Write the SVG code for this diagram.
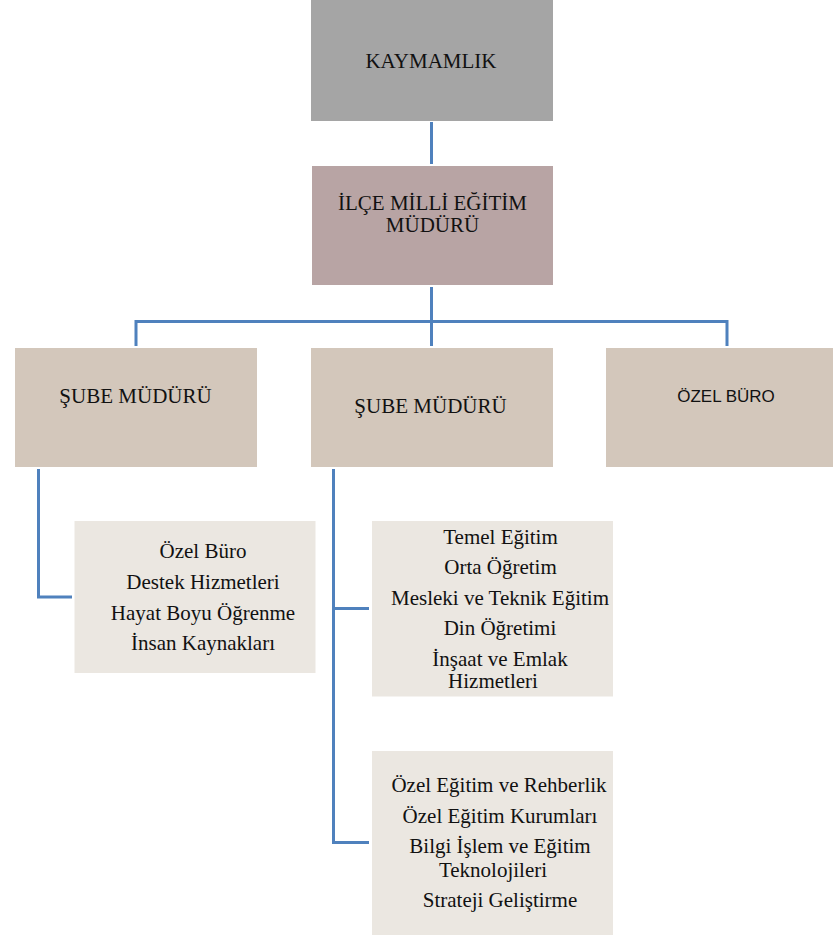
<svg xmlns="http://www.w3.org/2000/svg" width="833" height="937" viewBox="0 0 833 937">
<style>
.t{font-size:21px;fill:#111;text-anchor:middle}
.s{font-size:17px;fill:#111;text-anchor:middle}
.c{fill:none;stroke:#4f81bd;stroke-width:3}
</style>
<rect width="833" height="937" fill="#fff"/>
<g id="connectors">
<path class="c" d="M431.5 122V164"/>
<path class="c" d="M431.5 287V346M136 346V321.5H727V346"/>
<path class="c" d="M38.5 469V597H72"/>
<path class="c" d="M333.5 469V842.5H369M333.5 608.5H369"/>
</g>
<g font-family="Liberation Serif, Times New Roman, serif">
<g id="kaymamlik">
<rect x="311" y="0" width="242" height="121" fill="#a5a5a5"/>
<text class="t" x="431" y="68">KAYMAMLIK</text>
</g>
<g id="ilce">
<rect x="312" y="166" width="241" height="119" fill="#b8a4a4"/>
<text class="t" x="432.5" y="210">İLÇE MİLLİ EĞİTİM</text>
<text class="t" x="432.5" y="232">MÜDÜRÜ</text>
</g>
<g id="sube1">
<rect x="15" y="348" width="242" height="119" fill="#d3c7bb"/>
<text class="t" x="135.5" y="403">ŞUBE MÜDÜRÜ</text>
</g>
<g id="sube2">
<rect x="311" y="348" width="242" height="119" fill="#d3c7bb"/>
<text class="t" x="430.5" y="413">ŞUBE MÜDÜRÜ</text>
</g>
<g id="ozelburo">
<rect x="606" y="348" width="227" height="119" fill="#d3c7bb"/>
<text class="s" x="726" y="401.5" font-family="Liberation Sans, Arial, sans-serif">ÖZEL BÜRO</text>
</g>
<g id="list1">
<rect x="74.5" y="521" width="241" height="152" fill="#ebe7e1"/>
<text class="t" x="203" y="557.5">Özel Büro</text>
<text class="t" x="203" y="588.5">Destek Hizmetleri</text>
<text class="t" x="203" y="619.5">Hayat Boyu Öğrenme</text>
<text class="t" x="203" y="650">İnsan Kaynakları</text>
</g>
<g id="list2">
<rect x="372" y="521" width="241" height="175.5" fill="#ebe7e1"/>
<text class="t" x="500.5" y="543.5">Temel Eğitim</text>
<text class="t" x="500.5" y="574">Orta Öğretim</text>
<text class="t" x="500" y="604.5">Mesleki ve Teknik Eğitim</text>
<text class="t" x="500" y="635">Din Öğretimi</text>
<text class="t" x="500" y="665.5">İnşaat ve Emlak</text>
<text class="t" x="493" y="687.5">Hizmetleri</text>
</g>
<g id="list3">
<rect x="372" y="751" width="241" height="184" fill="#ebe7e1"/>
<text class="t" x="499" y="791.5">Özel Eğitim ve Rehberlik</text>
<text class="t" x="500" y="822.5">Özel Eğitim Kurumları</text>
<text class="t" x="500" y="852.5">Bilgi İşlem ve Eğitim</text>
<text class="t" x="493" y="876.5">Teknolojileri</text>
<text class="t" x="500" y="906.5">Strateji Geliştirme</text>
</g>
</g>
</svg>
